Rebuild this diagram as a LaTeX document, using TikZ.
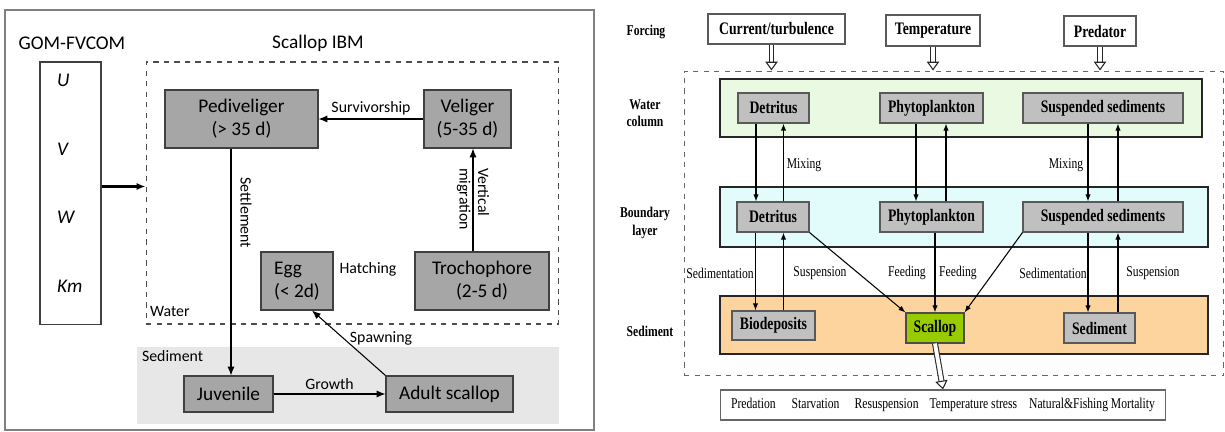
\documentclass[tikz,border=0pt]{standalone}
\usepackage{fontspec}
\setmainfont{Carlito}
\newfontfamily\srf[FakeStretch=0.78]{Liberation Serif}
\usetikzlibrary{arrows.meta,positioning}
\definecolor{stagegray}{HTML}{A6A6A6}
\definecolor{sedgray}{HTML}{E7E7E7}
\definecolor{poolgray}{HTML}{C0C0C0}
\definecolor{wcgreen}{HTML}{EAFAE2}
\definecolor{blcyan}{HTML}{E2FCFC}
\definecolor{sedorange}{HTML}{FDD49E}
\definecolor{scalgreen}{HTML}{99CC00}
\tikzset{
  stage/.style  ={draw=black!75,fill=stagegray,line width=0.6pt,align=center,
                  inner sep=1pt,font=\fontsize{11}{13}\selectfont},
  lab/.style    ={inner sep=1pt,font=\fontsize{9}{10.5}\selectfont},
  flow/.style   ={-{Latex[length=5pt,width=4pt]},line width=0.6pt},
  pool/.style   ={draw=black!65,fill=poolgray,line width=0.6pt,inner sep=1pt,
                  font=\srf\bfseries\fontsize{10}{12}\selectfont},
  layer/.style  ={draw=black!85,line width=1.2pt},
  row/.style    ={align=center,inner sep=1pt,font=\srf\bfseries\fontsize{8.5}{10}\selectfont},
  note/.style   ={inner sep=1pt,font=\srf\fontsize{8.5}{10}\selectfont},
  link/.style   ={-{Latex[length=4pt,width=3pt]},line width=0.6pt},
  hollow/.style ={draw=black!85,line width=0.6pt,double=white,double distance=2.2pt,
                  -{Triangle[open,length=5pt,width=7pt]}},
}

\begin{document}
\begin{tikzpicture}[x=0.02cm,y=-0.02cm]
\useasboundingbox (0,0) rectangle (1225,432);

% ---- left: scallop IBM ----
\draw[draw=black!50,line width=1pt] (5,10) rectangle (594,430);
\node[fill=sedgray,minimum width=8.44cm,minimum height=1.54cm] (lsed) at (348,385.5) {};
\node[draw=black!70,dashed,line width=0.6pt,minimum width=8.26cm,minimum height=5.24cm] (lbox) at (352.5,193) {};
\node[font=\fontsize{11}{13}\selectfont] (gom) at (72,43) {GOM-FVCOM};
\node[font=\fontsize{11}{13}\selectfont] (ibm) at (318,43) {Scallop IBM};
\node[draw=black!75,line width=0.6pt,minimum width=1.22cm,minimum height=5.26cm] (uvw) at (70.5,193.5) {};
\node[anchor=west,font=\itshape\fontsize{11}{13}\selectfont] (u) at (51,80) {U};
\node[anchor=west,font=\itshape\fontsize{11}{13}\selectfont] (v) at (51,149) {V};
\node[anchor=west,font=\itshape\fontsize{11}{13}\selectfont] (w) at (51,217) {W};
\node[anchor=west,font=\itshape\fontsize{11}{13}\selectfont] (km) at (51,286) {Km};
\node[lab,anchor=west] (water) at (148,311) {Water};
\node[lab,anchor=west] (sedlab) at (140,356) {Sediment};

% stages
\node[stage,minimum width=3.06cm,minimum height=1.16cm] (ped) at (241.5,119) {Pediveliger\\(> 35 d)};
\node[stage,minimum width=1.74cm,minimum height=1.16cm] (vel) at (467.5,119) {Veliger\\(5-35 d)};
\node[stage,align=left,minimum width=1.44cm,minimum height=1.16cm] (egg) at (297,281) {Egg\\(< 2d)};
\node[stage,minimum width=2.68cm,minimum height=1.16cm] (tro) at (482,281) {Trochophore\\(2-5 d)};
\node[stage,minimum width=1.78cm,minimum height=0.72cm] (juv) at (228.5,394) {Juvenile};
\node[stage,minimum width=2.54cm,minimum height=0.72cm] (adu) at (449.5,394) {Adult scallop};

% transitions
\draw[flow,line width=1.4pt] ([yshift=0.14cm]uvw.east) -- ([yshift=0.14cm]uvw.east -| lbox.west);
\draw[flow] (vel) -- node[lab,above=1pt] {Survivorship} (ped);
\draw[flow] (tro.north -| 473,0) -- (vel.south -| 473,0);
\draw[flow] (ped.south -| 231,0) -- (juv.north -| 231,0);
\draw[flow] (juv) -- node[lab,above=1pt] {Growth} (adu);
\draw[flow] (adu.north west) -- ([xshift=0.3cm]egg.south);
\node[lab,rotate=-90,align=left] (vm) at (473,199) {Vertical\\migration};
\node[lab,rotate=-90] (settle) at (246,213) {Settlement};
\node[lab] (hatch) at (368,269) {Hatching};
\node[lab] (spawn) at (381,338) {Spawning};

% ---- right: benthic model ----
\node[draw=black!60,dashed,line width=0.6pt,minimum width=10.8cm,minimum height=6.1cm] (dbox) at (954,223.5) {};
\node[layer,fill=wcgreen,minimum width=9.64cm,minimum height=1.16cm] (wc) at (961,108) {};
\node[layer,fill=blcyan,minimum width=9.76cm,minimum height=1.2cm] (bl) at (964,217) {};
\node[layer,fill=sedorange,minimum width=9.76cm,minimum height=1.16cm] (sed) at (964,325) {};

\node[row] (forc) at (646,32) {Forcing};
\node[row] (wclab) at (645,113) {Water\\column};
\node[row] (bllab) at (645,223) {Boundary\\layer};
\node[row] (sedrow) at (650,331) {Sediment};

\node[pool,fill=white,minimum width=2.74cm,minimum height=0.6cm] (cur) at (776.5,29) {Current/turbulence};
\node[pool,fill=white,minimum width=1.88cm,minimum height=0.62cm] (tem) at (933,30.5) {Temperature};
\node[pool,fill=white,minimum width=1.44cm,minimum height=0.6cm] (pre) at (1100,31) {Predator};

\node[pool,minimum width=1.42cm,minimum height=0.6cm] (wdet) at (773.5,108) {Detritus};
\node[pool,minimum width=2.06cm,minimum height=0.6cm] (wphy) at (931.5,108) {Phytoplankton};
\node[pool,minimum width=3.2cm,minimum height=0.6cm] (wsus) at (1103,108) {Suspended sediments};
\node[pool,minimum width=1.44cm,minimum height=0.6cm] (bdet) at (773,217) {Detritus};
\node[pool,minimum width=2.06cm,minimum height=0.6cm] (bphy) at (931.5,217) {Phytoplankton};
\node[pool,minimum width=3.2cm,minimum height=0.6cm] (bsus) at (1103,217) {Suspended sediments};
\node[pool,minimum width=1.66cm,minimum height=0.58cm] (bio) at (773.5,325.5) {Biodeposits};
\node[pool,fill=scalgreen,draw=black!70,minimum width=1.16cm,minimum height=0.6cm] (scal) at (935,328) {Scallop};
\node[pool,minimum width=1.42cm,minimum height=0.6cm] (sedi) at (1099.5,328) {Sediment};

\node[draw=black!60,line width=0.6pt,inner sep=1pt,minimum width=8.92cm,minimum height=0.6cm,
      font=\srf\fontsize{8.5}{10}\selectfont] (loss) at (943,405)
  {Predation\hspace{3.2mm}Starvation\hspace{3mm}Resuspension\hspace{2.2mm}Temperature stress\hspace{2.4mm}Natural\&Fishing Mortality};

% forcing and loss arrows
\draw[hollow] ([xshift=-0.1cm]cur.south) -- ([xshift=-0.1cm]cur.south |- dbox.north);
\draw[hollow] (tem.south) -- (tem.south |- dbox.north);
\draw[hollow] (pre.south) -- (pre.south |- dbox.north);
\draw[hollow] (scal.south) -- (loss.north);

% mixing
\draw[link] ([xshift=-0.35cm]wdet.south) -- ([xshift=-0.35cm]wdet.south |- bdet.north);
\draw[link] ([xshift=0.21cm]bdet.north) -- ([xshift=0.21cm]bdet.north |- wdet.south);
\draw[link] ([xshift=-0.31cm]wphy.south) -- ([xshift=-0.31cm]wphy.south |- bphy.north);
\draw[link] ([xshift=0.29cm]bphy.north) -- ([xshift=0.29cm]bphy.north |- wphy.south);
\draw[link] ([xshift=-0.3cm]wsus.south) -- ([xshift=-0.3cm]wsus.south |- bsus.north);
\draw[link] ([xshift=0.3cm]bsus.north) -- ([xshift=0.3cm]bsus.north |- wsus.south);
\node[note] (mix1) at (804,165) {Mixing};
\node[note] (mix2) at (1066,165) {Mixing};

% exchange with sediment
\draw[link] ([xshift=-0.35cm]bdet.south) -- ([xshift=-0.35cm]bdet.south |- bio.north);
\draw[link] ([xshift=0.21cm]bdet.south |- bio.north) -- ([xshift=0.21cm]bdet.south);
\draw[link] (bdet.south east) -- (scal.north west);
\draw[link] (bphy.south -| scal.north) -- (scal.north);
\draw[link] (bsus.south west) -- (scal.north east);
\draw[link] ([xshift=-0.3cm]bsus.south) -- ([xshift=-0.3cm]bsus.south |- sedi.north);
\draw[link] ([xshift=0.3cm]bsus.south |- sedi.north) -- ([xshift=0.3cm]bsus.south);
\node[note] (sd1) at (720,273) {Sedimentation};
\node[note] (su1) at (820,273) {Suspension};
\node[note] (fd1) at (907,273) {Feeding};
\node[note] (fd2) at (958,273) {Feeding};
\node[note] (sd2) at (1053,273) {Sedimentation};
\node[note] (su2) at (1153,273) {Suspension};

\end{tikzpicture}
\end{document}
